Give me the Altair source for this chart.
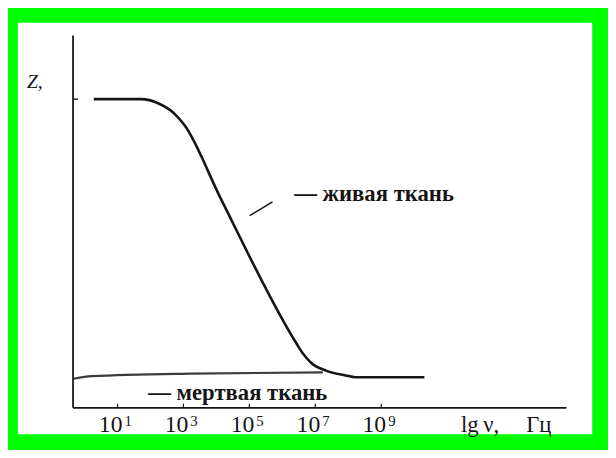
import altair as alt
import pandas as pd

# ---- data (x in lg(nu), y in arbitrary Z units) ----
live_lg = [0.28, 1.72, 2.23, 2.74, 3.04, 4.11, 6.42, 6.63, 6.87, 7.32, 7.92, 8.22, 10.31]
live_z = [82.9, 82.9, 81.8, 78.9, 75.8, 56.6, 17.4, 14.5, 12.1, 10.0, 8.7, 8.2, 8.2]

dead_lg = [-0.32, 0.22, 3.22, 7.23]
dead_z = [7.8, 8.5, 9.2, 9.5]

tick_lg = [1, 3, 5, 7, 9]
tick_base = ["10", "10", "10", "10", "10"]
tick_exp = ["1", "3", "5", "7", "9"]

z_level = 82.9          # marked level on the Z axis
axis_x0, axis_x1 = -0.35, 14.62
axis_y0, axis_y1 = 0.0, 100.0

label_live = "\u2014 живая ткань"
label_dead = "\u2014 мертвая ткань"
y_title = "Z,"
x_title = "lg\u2009\u03bd,"
x_unit = "Гц"

# ---- scales ----
xs = alt.Scale(domain=[-2.024, 15.401], nice=False, zero=False)
ys = alt.Scale(domain=[-7.105, 103.42], nice=False, zero=False)

def X(f="x"):
    return alt.X(f + ":Q", scale=xs, axis=None)

def Y(f="y"):
    return alt.Y(f + ":Q", scale=ys, axis=None)

INK = "#151515"

live = alt.Chart(pd.DataFrame({"x": live_lg, "y": live_z})).mark_line(
    color=INK, strokeWidth=2.6, interpolate="monotone"
).encode(x=X(), y=Y(), order="x:Q")

dead = alt.Chart(pd.DataFrame({"x": dead_lg, "y": dead_z})).mark_line(
    color="#262626", strokeWidth=2.2, interpolate="monotone", opacity=0.9
).encode(x=X(), y=Y(), order="x:Q")

# axis lines (drawn as rules through the scales)
axes_df = pd.DataFrame({
    "x": [axis_x0, axis_x0],
    "x2": [axis_x0, axis_x1],
    "y": [axis_y0, axis_y0],
    "y2": [axis_y1, axis_y0],
})
axes = alt.Chart(axes_df).mark_rule(color=INK, strokeWidth=1.8).encode(
    x=X(), x2="x2:Q", y=Y(), y2="y2:Q"
)

# inward ticks
xt_df = pd.DataFrame({"x": tick_lg, "y": [0.0] * 5, "y2": [1.1] * 5})
xticks = alt.Chart(xt_df).mark_rule(color=INK, strokeWidth=1.2).encode(
    x=X(), y=Y(), y2="y2:Q"
)
yt_df = pd.DataFrame({"x": [axis_x0], "x2": [-0.2], "y": [z_level]})
yticks = alt.Chart(yt_df).mark_rule(color=INK, strokeWidth=1.4).encode(
    x=X(), x2="x2:Q", y=Y()
)

# tick labels 10^n
lab_df = pd.DataFrame({"x": tick_lg, "y": [-6.58] * 5, "t": tick_base})
labs = alt.Chart(lab_df).mark_text(
    font="Liberation Serif", fontSize=24, color=INK, align="right",
    baseline="alphabetic", dx=5
).encode(x=X(), y=Y(), text="t:N")
sup_df = pd.DataFrame({"x": tick_lg, "y": [-4.9] * 5, "t": tick_exp})
sups = alt.Chart(sup_df).mark_text(
    font="Liberation Serif", fontSize=15, color=INK, align="left",
    baseline="alphabetic", dx=7
).encode(x=X(), y=Y(), text="t:N")

# axis titles
xt_title = alt.Chart(pd.DataFrame({"x": [11.42, 13.40], "y": [-6.58, -6.58],
                                   "t": [x_title, x_unit]})).mark_text(
    font="Liberation Serif", fontSize=23, color=INK, align="left",
    baseline="alphabetic"
).encode(x=X(), y=Y(), text="t:N")

yt_title = alt.Chart(pd.DataFrame({"x": [-1.75], "y": [86.0], "t": [y_title]})).mark_text(
    font="Liberation Serif", fontSize=20, fontStyle="italic", color=INK,
    align="left", baseline="alphabetic"
).encode(x=X(), y=Y(), text="t:N")

# curve labels
ann_df = pd.DataFrame({"x": [6.36, 1.93], "y": [55.5, 2.1], "t": [label_live, label_dead]})
ann = alt.Chart(ann_df).mark_text(
    font="Liberation Serif", fontSize=23, fontWeight="bold", color=INK,
    align="left", baseline="alphabetic"
).encode(x=X(), y=Y(), text="t:N")

leader = alt.Chart(pd.DataFrame({"x": [5.01], "x2": [5.70], "y": [51.6], "y2": [55.3]})).mark_rule(
    color=INK, strokeWidth=1.6
).encode(x=X(), x2="x2:Q", y=Y(), y2="y2:Q")

chart = alt.layer(
    axes, xticks, yticks, dead, live, leader, labs, sups, xt_title, yt_title, ann
).properties(
    width=608,
    height=442,
    background="#00ff00",
    padding={"left": 10, "top": 12, "right": 16, "bottom": 10},
    autosize=alt.AutoSizeParams(type="fit", contains="padding"),
).configure_view(fill="white", strokeWidth=0)

chart.save("out.html", embed_options={"renderer": "svg", "actions": False})
